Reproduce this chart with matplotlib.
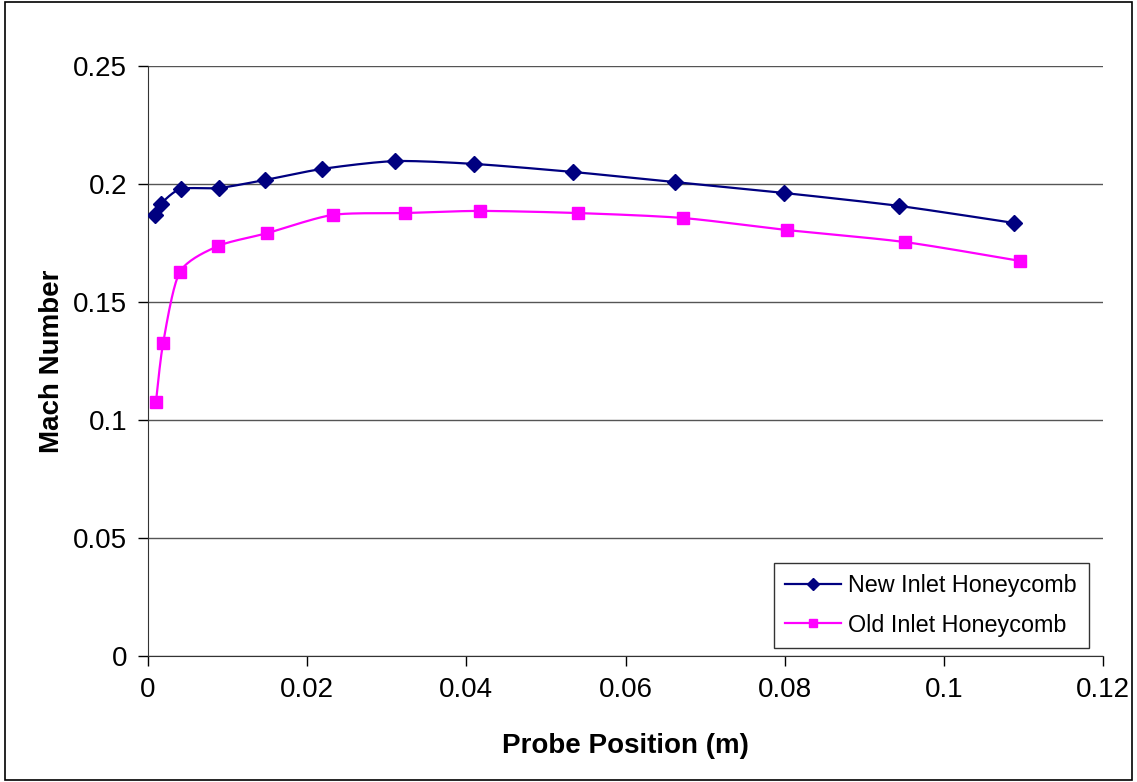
import numpy as np
import matplotlib
matplotlib.use("Agg")
import matplotlib.pyplot as plt
from matplotlib.patches import Rectangle

plt.rcParams['font.family'] = ['Liberation Sans', 'DejaVu Sans']

new_x = [0.0009, 0.0016, 0.0041, 0.0089, 0.0147, 0.0219, 0.0310, 0.0410, 0.0534, 0.0662, 0.0799, 0.0944, 0.1088]
new_y = [0.1869, 0.1915, 0.1979, 0.1983, 0.2017, 0.2064, 0.2097, 0.2085, 0.2051, 0.2008, 0.1962, 0.1907, 0.1835]
old_x = [0.0010, 0.0019, 0.0040, 0.0088, 0.0150, 0.0232, 0.0323, 0.0417, 0.0540, 0.0672, 0.0803, 0.0951, 0.1096]
old_y = [0.1076, 0.1326, 0.1627, 0.1737, 0.1792, 0.1869, 0.1877, 0.1886, 0.1877, 0.1856, 0.1805, 0.1754, 0.1674]
labels = ["New Inlet Honeycomb", "Old Inlet Honeycomb"]


def smooth(x, y, n=20, tension=1/8):
    x = np.asarray(x); y = np.asarray(y)
    px = np.concatenate([[x[0]], x, [x[-1]]])
    py = np.concatenate([[y[0]], y, [y[-1]]])
    xs, ys = [x[0]], [y[0]]
    t = np.linspace(0, 1, n + 1)[1:]
    for i in range(1, len(px) - 2):
        p0 = np.array([px[i], py[i]]); p3 = np.array([px[i + 1], py[i + 1]])
        c1 = p0 + tension * (np.array([px[i + 1], py[i + 1]]) - np.array([px[i - 1], py[i - 1]]))
        c2 = p3 - tension * (np.array([px[i + 2], py[i + 2]]) - np.array([px[i], py[i]]))
        pts = ((1 - t) ** 3)[:, None] * p0 + (3 * (1 - t) ** 2 * t)[:, None] * c1 \
            + (3 * (1 - t) * t ** 2)[:, None] * c2 + (t ** 3)[:, None] * p3
        xs.extend(pts[:, 0]); ys.extend(pts[:, 1])
    return np.array(xs), np.array(ys)


W, H = 1137, 782
fig = plt.figure(figsize=(W / 100, H / 100), dpi=100)
fig.patches.append(Rectangle((0.004, 0.003), 0.992, 0.994, transform=fig.transFigure,
                             fill=False, edgecolor='black', linewidth=1.2))
ax = fig.add_axes([148 / W, 1 - 656 / H, (1103 - 148) / W, (656 - 66) / H])

navy = '#000080'
mag = '#FF00FF'
sx, sy = smooth(new_x, new_y)
ax.plot(sx, sy, color=navy, lw=1.6, zorder=3)
ax.plot(new_x, new_y, linestyle='none', marker='D', ms=8, color=navy, zorder=4)
sx, sy = smooth(old_x, old_y)
ax.plot(sx, sy, color=mag, lw=1.6, zorder=3)
ax.plot(old_x, old_y, linestyle='none', marker='s', ms=8, color=mag, zorder=4)

ax.plot([], [], color=navy, lw=1.6, marker='D', ms=6, label=labels[0])
ax.plot([], [], color=mag, lw=1.6, marker='s', ms=6, label=labels[1])

ax.set_xlim(0, 0.12)
ax.set_ylim(0, 0.25)
ax.set_xticks(np.arange(0, 0.121, 0.02))
ax.set_xticklabels(['0', '0.02', '0.04', '0.06', '0.08', '0.1', '0.12'])
ax.set_yticks(np.arange(0, 0.251, 0.05))
ax.set_yticklabels(['0', '0.05', '0.1', '0.15', '0.2', '0.25'])
ax.yaxis.grid(True, color='#555555', lw=1)
ax.set_axisbelow(True)
for s in ['top', 'right']:
    ax.spines[s].set_visible(False)
ax.spines['left'].set_color('#333333')
ax.spines['bottom'].set_color('#333333')
ax.tick_params(axis='both', direction='out', length=7, width=1, labelsize=20, colors='#000000', pad=8)
ax.set_xlabel('Probe Position (m)', fontsize=20, fontweight='bold', labelpad=22)
ax.set_ylabel('Mach Number', fontsize=20, fontweight='bold', labelpad=6)

leg = ax.legend(loc='lower right', bbox_to_anchor=(0.985, 0.013), fontsize=16.8, frameon=True,
                fancybox=False, edgecolor='black', handlelength=2.4, borderpad=0.5,
                labelspacing=0.7, handletextpad=0.3, borderaxespad=0)
leg.get_frame().set_linewidth(1)

fig.savefig('out.png', dpi=100)
